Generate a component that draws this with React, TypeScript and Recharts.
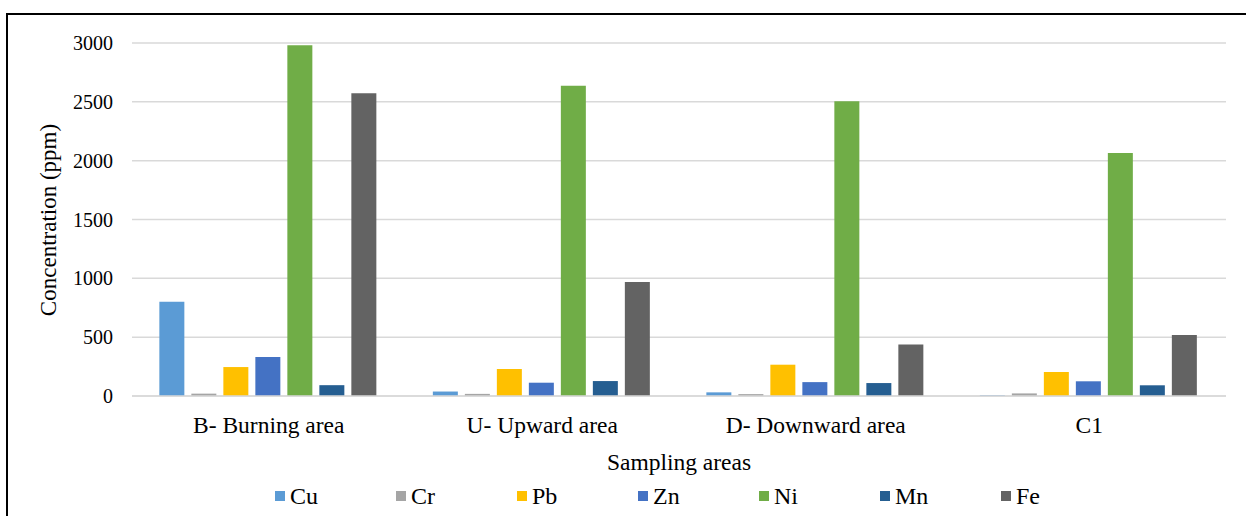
import { BarChart, Bar, XAxis, YAxis, CartesianGrid, Label } from 'recharts';

const categories = ['B- Burning area', 'U- Upward area', 'D- Downward area', 'C1'];
const cu = [800, 38, 31, 6];
const cr = [20, 18, 16, 22];
const pb = [246, 229, 266, 204];
const zn = [331, 113, 118, 125];
const ni = [2980, 2636, 2504, 2065];
const mn = [92, 127, 110, 91];
const fe = [2573, 969, 438, 518];
const yTicks = [0, 500, 1000, 1500, 2000, 2500, 3000];

const SERIES = [
  { key: 'Cu', values: cu, color: '#5B9BD5' },
  { key: 'Cr', values: cr, color: '#A5A5A5' },
  { key: 'Pb', values: pb, color: '#FFC000' },
  { key: 'Zn', values: zn, color: '#4472C4' },
  { key: 'Ni', values: ni, color: '#70AD47' },
  { key: 'Mn', values: mn, color: '#255E91' },
  { key: 'Fe', values: fe, color: '#636363' },
];

const data = categories.map((name, i) => {
  const row: Record<string, string | number> = { name };
  SERIES.forEach((s) => { row[s.key] = s.values[i]; });
  return row;
});

const FONT = '"Liberation Serif", "Times New Roman", serif';

export default function App() {
  return (
    <div style={{ position: 'absolute', left: 0, top: 0, width: 1246, height: 516, background: '#fff', overflow: 'hidden' }}>
      {/* frame */}
      <div style={{ position: 'absolute', left: 6, top: 13, width: 1240, height: 503, borderTop: '2px solid #000', borderLeft: '2px solid #000' }} />

      <div style={{ position: 'absolute', left: 0, top: 0 }}>
        <BarChart
          width={1246}
          height={516}
          data={data}
          margin={{ top: 43, right: 20, left: 0, bottom: 70 }}
          barCategoryGap="10%"
          barGap={7}
        >
          <CartesianGrid vertical={false} stroke="#d9d9d9" strokeWidth={1.5} />
          <XAxis
            dataKey="name"
            height={50}
            tickLine={false}
            axisLine={{ stroke: '#d9d9d9', strokeWidth: 1.5 }}
            tickSize={0}
            tickMargin={20}
            tick={{ fill: '#000', fontSize: 23.5, fontFamily: FONT }}
          />
          <YAxis
            width={132}
            domain={[0, 3000]}
            ticks={yTicks}
            axisLine={false}
            tickLine={false}
            tickSize={0}
            tickMargin={19}
            tick={{ fill: '#000', fontSize: 20, fontFamily: FONT }}
          >
            <Label
              content={() => (
                <text
                  transform="translate(56,220) rotate(-90)"
                  textAnchor="middle"
                  fontSize={23}
                  fontFamily={FONT}
                  fill="#000"
                >
                  Concentration (ppm)
                </text>
              )}
            />
          </YAxis>
          {SERIES.map((s) => (
            <Bar key={s.key} dataKey={s.key} fill={s.color} isAnimationActive={false} />
          ))}
        </BarChart>
      </div>

      {/* x axis title */}
      <div style={{ position: 'absolute', left: 132, width: 1094, top: 447, textAlign: 'center', fontFamily: FONT, fontSize: 23.5, lineHeight: '30px', color: '#000' }}>
        Sampling areas
      </div>

      {/* legend */}
      <div style={{ position: 'absolute', left: 275, top: 481, display: 'flex', fontFamily: FONT, fontSize: 24, lineHeight: '30px', color: '#000' }}>
        {SERIES.map((s) => (
          <div key={s.key} style={{ width: 121, display: 'flex', alignItems: 'center' }}>
            <span style={{ display: 'inline-block', width: 10, height: 10, background: s.color, marginRight: 5 }} />
            <span>{s.key}</span>
          </div>
        ))}
      </div>
    </div>
  );
}
